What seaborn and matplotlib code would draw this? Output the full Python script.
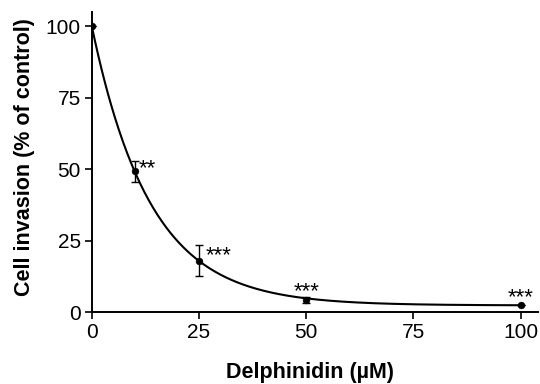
import numpy as np
import pandas as pd
import matplotlib
matplotlib.use("Agg")
import matplotlib.pyplot as plt
import seaborn as sns

# data
dose = [0, 10, 25, 50, 100]
invasion = [100, 49.2, 18.0, 4.2, 2.6]
err = [0, 3.8, 5.4, 1.0, 0]
stars = ["", "**", "***", "***", "***"]

# one-phase exponential decay fit
plateau = 2.3
k_rate = 0.0735

sns.set_style("ticks", {"axes.edgecolor": "black", "text.color": "black",
                        "axes.labelcolor": "black", "xtick.color": "black",
                        "ytick.color": "black"})
plt.rcParams["font.family"] = ["Liberation Sans", "DejaVu Sans"]

df = pd.DataFrame({"dose": dose, "invasion": invasion, "err": err})
xs = np.linspace(0, 100, 400)
fit = pd.DataFrame({"dose": xs, "invasion": plateau + (100 - plateau) * np.exp(-k_rate * xs)})

fig = plt.figure(figsize=(5.4, 3.84), dpi=100)
ax = fig.add_axes([0.170, 0.1875, 0.826, 0.7815])

sns.lineplot(data=fit, x="dose", y="invasion", color="black", linewidth=1.5, ax=ax)
ax.errorbar(df["dose"], df["invasion"], yerr=df["err"], fmt="none", ecolor="black",
            elinewidth=1.0, capsize=2.7, capthick=1.0)
sns.scatterplot(data=df, x="dose", y="invasion", color="black", s=24, edgecolor="black",
                zorder=5, ax=ax)

# significance marks
ax.text(dose[1] + 1.0, invasion[1] + 0.8, stars[1], fontsize=16, va="center", ha="left")
ax.text(dose[2] + 1.5, invasion[2] + 1.8, stars[2], fontsize=16, va="center", ha="left")
ax.text(dose[3], invasion[3] + 3.0, stars[3], fontsize=16, va="center", ha="center")
ax.text(dose[4], invasion[4] + 2.5, stars[4], fontsize=16, va="center", ha="center")

ax.set_xlim(0, 104)
ax.set_ylim(0, 105)
ax.set_xticks([0, 25, 50, 75, 100])
ax.set_yticks([0, 25, 50, 75, 100])
ax.tick_params(axis="both", labelsize=15, length=5, width=1.2, direction="out", pad=3)
for s in ["left", "bottom"]:
    ax.spines[s].set_linewidth(1.4)
sns.despine(ax=ax)

ax.set_xlabel("Delphinidin (µM)", fontsize=15.5, fontweight="bold")
ax.set_ylabel("Cell invasion (% of control)", fontsize=15.5, fontweight="bold")
ax.xaxis.set_label_coords(0.489, -0.20)
ax.yaxis.set_label_coords(-0.150, 0.517)
ax.xaxis.label.set_va("center")
ax.yaxis.label.set_va("center")

fig.savefig("out.png", dpi=100)
